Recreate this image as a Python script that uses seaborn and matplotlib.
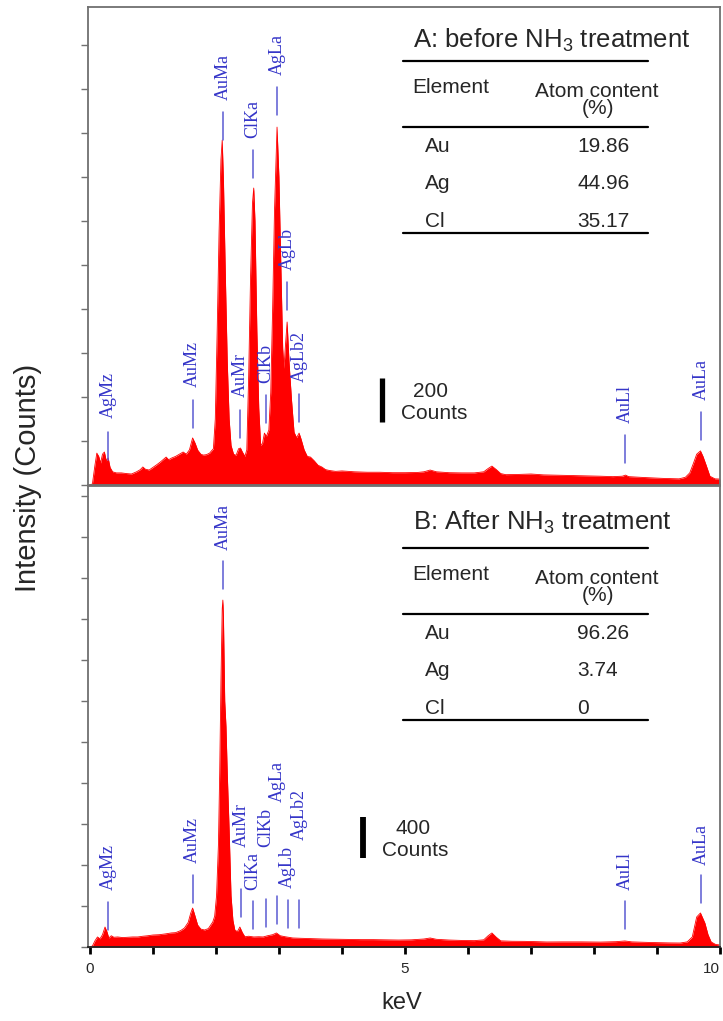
import matplotlib
matplotlib.use("Agg")
import matplotlib.pyplot as plt
from matplotlib.lines import Line2D
import seaborn as sns
import pandas as pd

# --- Espectro A (antes do tratamento com NH3): energia (keV) e contagens
kev_a = [0.00, 0.04, 0.08, 0.11, 0.14, 0.17, 0.20, 0.23, 0.26, 0.29, 0.32, 0.36, 0.42, 0.50,
         0.58, 0.66, 0.74, 0.80, 0.84, 0.88, 0.94, 1.00, 1.06, 1.12, 1.18, 1.21, 1.25, 1.30,
         1.36, 1.42, 1.48, 1.53, 1.58, 1.63, 1.67, 1.71, 1.76, 1.80, 1.85, 1.90, 1.96, 1.99,
         2.02, 2.05, 2.08, 2.10, 2.12, 2.15, 2.18, 2.21, 2.24, 2.28, 2.32, 2.36, 2.39, 2.42,
         2.46, 2.49, 2.52, 2.55, 2.58, 2.60, 2.62, 2.65, 2.68, 2.71, 2.74, 2.77, 2.80, 2.84,
         2.87, 2.90, 2.93, 2.97, 3.00, 3.03, 3.06, 3.08, 3.10, 3.13, 3.16, 3.20, 3.24, 3.28,
         3.32, 3.35, 3.40, 3.45, 3.50, 3.56, 3.62, 3.68, 3.74, 3.80, 3.90, 4.00, 4.20, 4.40,
         4.60, 4.80, 5.00, 5.20, 5.30, 5.40, 5.50, 5.70, 5.90, 6.10, 6.25, 6.32, 6.38, 6.45,
         6.52, 6.60, 6.80, 7.00, 7.20, 7.50, 7.80, 8.10, 8.30, 8.45, 8.50, 8.55, 8.80, 9.10,
         9.35, 9.45, 9.52, 9.58, 9.63, 9.69, 9.73, 9.78, 9.84, 9.92, 10.0]
counts_a = [0, 5, 90, 145, 130, 100, 140, 150, 110, 123, 80, 60, 55, 55,
            52, 50, 60, 70, 82, 72, 68, 80, 92, 105, 120, 127, 115, 123,
            130, 140, 150, 140, 160, 214, 190, 159, 140, 136, 138, 145, 165, 300,
            700, 1150, 1480, 1568, 1380, 950, 560, 300, 180, 140, 135, 165, 168, 150,
            130, 160, 500, 950, 1280, 1350, 1200, 700, 350, 180, 190, 236, 220, 250,
            420, 800, 1250, 1627, 1400, 1000, 620, 530, 620, 741, 560, 386, 240, 215,
            236, 210, 160, 130, 127, 110, 90, 82, 70, 66, 62, 64, 60, 58,
            58, 56, 56, 57, 60, 68, 60, 56, 55, 55, 60, 75, 86, 70,
            52, 47, 48, 50, 46, 44, 42, 40, 38, 40, 45, 38, 34, 30,
            28, 35, 55, 100, 140, 155, 130, 90, 40, 28, 27]

# --- Espectro B (depois do tratamento com NH3)
kev_b = [0.00, 0.04, 0.08, 0.12, 0.16, 0.20, 0.24, 0.27, 0.30, 0.34, 0.38, 0.44, 0.52, 0.60,
         0.68, 0.76, 0.84, 0.92, 1.00, 1.10, 1.20, 1.29, 1.36, 1.44, 1.50, 1.56, 1.60, 1.63,
         1.66, 1.71, 1.76, 1.82, 1.88, 1.95, 1.98, 2.01, 2.04, 2.06, 2.08, 2.10, 2.11, 2.12,
         2.14, 2.16, 2.18, 2.21, 2.24, 2.27, 2.30, 2.34, 2.38, 2.42, 2.46, 2.52, 2.60, 2.68,
         2.75, 2.82, 2.90, 2.96, 3.02, 3.10, 3.22, 3.35, 3.50, 3.70, 3.90, 4.10, 4.30, 4.50,
         4.70, 4.90, 5.10, 5.30, 5.40, 5.50, 5.70, 5.90, 6.10, 6.25, 6.32, 6.38, 6.45, 6.52,
         6.70, 6.90, 7.10, 7.25, 7.50, 7.80, 8.10, 8.35, 8.49, 8.60, 8.90, 9.20, 9.37, 9.48,
         9.56, 9.63, 9.69, 9.76, 9.81, 9.86, 9.93, 10.0]
counts_b = [0, 10, 60, 98, 80, 120, 195, 150, 88, 110, 95, 98, 92, 95,
            98, 98, 105, 110, 117, 120, 128, 137, 140, 160, 185, 240, 330, 380,
            320, 215, 175, 166, 180, 244, 300, 500, 1000, 1700, 2600, 3300, 3385, 3200,
            2400, 2150, 1700, 1141, 500, 260, 166, 150, 195, 140, 100, 105, 98, 100,
            98, 110, 120, 137, 110, 100, 88, 85, 82, 78, 76, 74, 72, 72,
            70, 68, 70, 78, 88, 75, 68, 64, 62, 70, 110, 137, 95, 60,
            56, 55, 52, 49, 50, 50, 48, 52, 59, 50, 44, 40, 39, 50,
            98, 293, 332, 234, 120, 49, 25, 20]

# --- Identificação dos picos (rótulos azuis)
peak_names = ['AgMz', 'AuMz', 'AuMa', 'AuMr', 'ClKa', 'ClKb', 'AgLa', 'AgLb', 'AgLb2', 'AuLl', 'AuLa']
peak_kev_a = [0.29, 1.63, 2.11, 2.38, 2.59, 2.79, 2.97, 3.13, 3.32, 8.49, 9.70]
peak_kev_b = [0.29, 1.63, 2.11, 2.40, 2.59, 2.79, 2.97, 3.14, 3.32, 8.49, 9.70]
# altura (contagens) da base do traço e do início do texto de cada rótulo
mark_a = [114, 259, 1568, 214, 1395, 282, 1682, 795, 286, 100, 205]
text_a = [305, 445, 1750, 400, 1577, 464, 1864, 977, 468, 282, 386]
mark_b = [166, 429, 3493, 293, 176, 195, 224, 185, 185, 176, 429]
text_b = [556, 820, 3873, 976, 556, 976, 1415, 576, 1044, 556, 800]

# --- Tabelas de composição
elements = ['Au', 'Ag', 'Cl']
atom_a = ['19.86', '44.96', '35.17']
atom_b = ['96.26', '3.74', '0']

W, H = 723, 1021
RED = '#ff0000'
BLUE_TXT = '#3535c8'
BLUE_LN = '#5a5ad2'
GRAY = '#707070'

sns.set_theme(style='white')
plt.rcParams['font.family'] = ['Liberation Sans', 'DejaVu Sans']
plt.rcParams['mathtext.fontset'] = 'custom'
plt.rcParams['mathtext.rm'] = 'Liberation Sans'
plt.rcParams['mathtext.it'] = 'Liberation Sans:italic'


def fx(px):
    return px / W


def fy(py):
    return 1 - py / H


def spectrum(ax, kev, counts, ymax, ystep, names, pk, mark, txt, line_len):
    df = pd.DataFrame({'keV': kev, 'counts': counts})
    ax.fill_between(df['keV'], df['counts'], 0, color=RED, lw=0)
    sns.lineplot(data=df, x='keV', y='counts', ax=ax, color=RED, lw=0.6, estimator=None)
    ax.set_xlim(-0.03, 10.0)
    ax.set_ylim(0, ymax)
    ax.set_yticks(range(0, int(ymax), ystep))
    ax.set_yticklabels([])
    ax.tick_params(axis='y', direction='out', length=5, width=1, color=GRAY, left=True)
    ax.set_xlabel('')
    ax.set_ylabel('')
    for s in ax.spines.values():
        s.set_color(GRAY)
        s.set_linewidth(1.3)
    for name, x, m, t in zip(names, pk, mark, txt):
        ax.plot([x, x], [m, m + line_len], color=BLUE_LN, lw=1.1)
        ax.text(x, t, name, rotation=90, ha='center', va='bottom', color=BLUE_TXT,
                fontsize=13, family=['Liberation Serif', 'DejaVu Serif'])


def table(fig, title, title_base, values, dy):
    fig.text(fx(413), fy(title_base), title, fontsize=18.5, va='baseline', ha='left')
    for yl in (61, 127, 233):
        fig.add_artist(Line2D([fx(403), fx(648)], [fy(yl + dy), fy(yl + dy)],
                              color='black', lw=1.6, transform=fig.transFigure))
    fig.text(fx(412), fy(93 + dy), 'Element', fontsize=15, va='baseline', ha='left')
    fig.text(fx(597), fy(97 + dy), 'Atom content', fontsize=15, va='baseline', ha='center')
    fig.text(fx(598), fy(114 + dy), '(%)', fontsize=15, va='baseline', ha='center')
    for el, v, yb in zip(elements, values, (152, 189, 227)):
        fig.text(fx(425), fy(yb + dy), el, fontsize=15, va='baseline', ha='left')
        fig.text(fx(577), fy(yb + dy), v, fontsize=15, va='baseline', ha='left')


fig = plt.figure(figsize=(W / 100, H / 100), dpi=100)
ax_a = fig.add_axes([fx(88), fy(485), 632 / W, 478 / H])
ax_b = fig.add_axes([fx(88), fy(947), 632 / W, 461 / H])

spectrum(ax_a, kev_a, counts_a, 2173, 200, peak_names, peak_kev_a, mark_a, text_a, 127)
spectrum(ax_b, kev_b, counts_b, 4498, 400, peak_names, peak_kev_b, mark_b, text_b, 273)

ax_a.set_xticks([])
ax_b.set_xticks(range(0, 11))
ax_b.set_xticklabels(['0', '', '', '', '', '5', '', '', '', '', '10'], fontsize=11)
ax_b.tick_params(axis='x', direction='out', length=5, width=2, color='black', bottom=True, pad=6)
ax_b.get_xticklabels()[-1].set_ha('right')
ax_b.spines['bottom'].set_color('#222222')

# barras de escala
ax_a.plot([4.63, 4.63], [286, 486], color='black', lw=3.8, solid_capstyle='butt')
ax_a.text(5.41, 423, '200', fontsize=15, ha='center', va='center')
ax_a.text(5.46, 327, 'Counts', fontsize=15, ha='center', va='center')
ax_b.plot([4.33, 4.33], [868, 1268], color='black', lw=4.2, solid_capstyle='butt')
ax_b.text(5.13, 1161, '400', fontsize=15, ha='center', va='center')
ax_b.text(5.16, 946, 'Counts', fontsize=15, ha='center', va='center')

table(fig, 'A: before NH$_3$ treatment', 48, atom_a, 0)
table(fig, 'B: After NH$_3$ treatment', 530, atom_b, 487)

fig.text(fx(402), fy(1003), 'keV', fontsize=17, ha='center', va='center')
fig.text(fx(28), fy(478), 'Intensity (Counts)', fontsize=21, rotation=90, ha='center', va='center')

fig.savefig('out.png', dpi=100)
